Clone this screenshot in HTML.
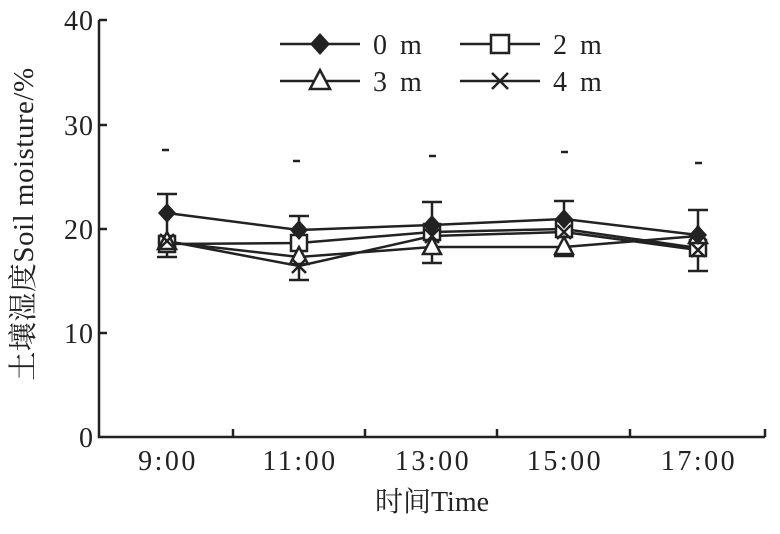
<!DOCTYPE html>
<html><head><meta charset="utf-8"><style>
html,body{margin:0;padding:0;background:#fff}
svg text{font-family:"Liberation Serif","Noto Serif CJK SC",serif;fill:#222}
</style></head><body>
<svg width="780" height="529" viewBox="0 0 780 529" xmlns="http://www.w3.org/2000/svg">
<defs>
<g id="dia"><polygon points="0,-10 9,0 0,10 -9,0" fill="#222"/></g>
<g id="sq"><rect x="-8" y="-8" width="16" height="16" fill="#fff" stroke="#222" stroke-width="2.5"/></g>
<g id="tri"><polygon points="0,-10 9,7 -9,7" fill="#fff" stroke="#222" stroke-width="2.5"/></g>
<g id="x"><path d="M-7,-7L7,7M7,-7L-7,7" stroke="#222" stroke-width="2.5"/></g>
<g id="diaL"><polygon points="0,-11 10,0 0,11 -10,0" fill="#222"/></g>
<g id="sqL"><rect x="-9" y="-9" width="18" height="18" fill="#fff" stroke="#222" stroke-width="2.5"/></g>
<g id="triL"><polygon points="0,-11 10,8 -10,8" fill="#fff" stroke="#222" stroke-width="2.5"/></g>
<g id="xL"><path d="M-8,-8L8,8M8,-8L-8,8" stroke="#222" stroke-width="2.5"/></g>
</defs>
<g stroke="#222" stroke-width="2.5" fill="none">
<path d="M99,20V437H765"/>
<path d="M99,20h8M99,125h8M99,229h8M99,333h8"/>
<path d="M233,437v-8M365,437v-8M497,437v-8M630,437v-8M765,437v-8"/>
</g>
<g font-size="28" text-anchor="end" letter-spacing="1">
<text x="94" y="30">40</text><text x="94" y="135">30</text><text x="94" y="239">20</text><text x="94" y="343">10</text><text x="94" y="447">0</text>
</g>
<g font-size="28" text-anchor="middle" letter-spacing="2.5">
<text x="168" y="470">9:00</text><text x="300" y="470">11:00</text><text x="433" y="470">13:00</text><text x="565" y="470">15:00</text><text x="699" y="470">17:00</text>
</g>
<text x="432" y="511" font-size="28" text-anchor="middle">时间Time</text>
<text font-size="29" text-anchor="middle" letter-spacing="0.5" transform="translate(33,224) rotate(-90)">土壤湿度Soil moisture/%</text>
<g stroke="#222" stroke-width="2.5">
<path d="M162,150h7M293,161h7M429,156h7M561,152h7M695,163h7"/>
<path d="M167,194V257M157,194h20M157,257h20"/>
<path d="M299,216V280M289,216h20M289,280h20"/>
<path d="M432,202V263M422,202h20M422,263h20"/>
<path d="M564,201V256M554,201h20M554,256h20"/>
<path d="M698,210V271M688,210h20M688,271h20"/>
</g>
<g stroke="#222" stroke-width="2.5" fill="none">
<polyline points="167,213 299,230 432,225 564,219 698,235"/>
<polyline points="167,244 299,243 432,232 564,229 698,248"/>
<polyline points="167,242 299,257 432,247 564,247 698,236"/>
<polyline points="167,241 299,266 432,236 564,232 698,250"/>
</g>
<use href="#sq" x="167" y="244"/><use href="#sq" x="299" y="243"/><use href="#sq" x="432" y="232"/><use href="#sq" x="564" y="229"/><use href="#sq" x="698" y="248"/>
<use href="#tri" x="167" y="242"/><use href="#tri" x="299" y="257"/><use href="#tri" x="432" y="247"/><use href="#tri" x="564" y="247"/><use href="#tri" x="698" y="236"/>
<use href="#x" x="167" y="241"/><use href="#x" x="299" y="266"/><use href="#x" x="432" y="236"/><use href="#x" x="564" y="232"/><use href="#x" x="698" y="250"/>
<use href="#dia" x="167" y="213"/><use href="#dia" x="299" y="230"/><use href="#dia" x="432" y="225"/><use href="#dia" x="564" y="219"/><use href="#dia" x="698" y="235"/>
<g stroke="#222" stroke-width="2.5"><path d="M280,44h80M460,44h80M280,81h80M460,81h80"/></g>
<use href="#diaL" x="320" y="44"/><use href="#sqL" x="500" y="44"/><use href="#triL" x="320" y="81"/><use href="#xL" x="500" y="81"/>
<g font-size="28" letter-spacing="3">
<text x="373" y="54">0 m</text><text x="553" y="54">2 m</text><text x="373" y="91">3 m</text><text x="553" y="91">4 m</text>
</g>
</svg>
</body></html>
